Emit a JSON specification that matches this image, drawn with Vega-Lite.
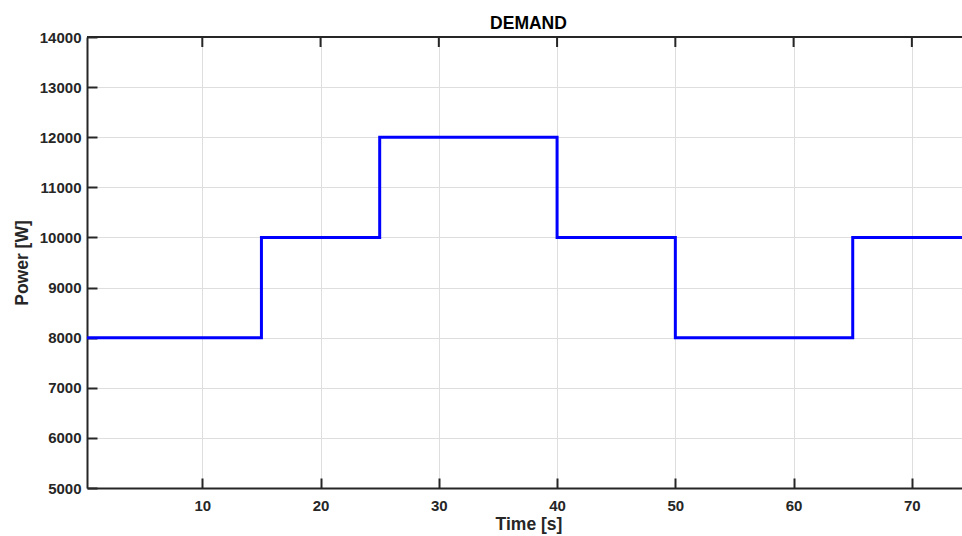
{
  "$schema": "https://vega.github.io/schema/vega-lite/v6.json",
  "width": 875,
  "height": 451,
  "autosize": {"type": "none"},
  "padding": {"left": 87, "top": 37, "right": 0, "bottom": 48},
  "background": "white",
  "title": {
    "text": "DEMAND",
    "font": "Liberation Sans",
    "fontSize": 17.5,
    "fontWeight": "bold",
    "color": "#000000",
    "anchor": "middle",
    "offset": -2,
    "dx": 4
  },
  "config": {
    "view": {"stroke": null},
    "axis": {
      "labelFont": "Liberation Sans",
      "labelFontSize": 15,
      "labelFontWeight": "bold",
      "labelColor": "#262626",
      "titleFont": "Liberation Sans",
      "titleFontSize": 17.5,
      "titleFontWeight": "bold",
      "titleColor": "#262626",
      "domainColor": "#262626",
      "domainWidth": 2,
      "tickColor": "#262626",
      "tickWidth": 2,
      "gridColor": "#dedede",
      "gridWidth": 1
    }
  },
  "data": {
    "values": [
      {"t": 0, "p": 8000},
      {"t": 15, "p": 10000},
      {"t": 25, "p": 12000},
      {"t": 40, "p": 10000},
      {"t": 50, "p": 8000},
      {"t": 65, "p": 10000},
      {"t": 75, "p": 10000}
    ]
  },
  "layer": [
    {
      "mark": {"type": "line", "interpolate": "step-after", "color": "#0000ff", "strokeWidth": 3, "clip": true},
      "encoding": {
        "x": {
          "field": "t",
          "type": "quantitative",
          "scale": {"domain": [0.25, 74.24], "nice": false, "zero": false},
          "axis": {
            "title": "Time [s]",
            "values": [10, 20, 30, 40, 50, 60, 70],
            "tickSize": -10,
            "labelPadding": 20,
            "titlePadding": 2,
            "titleX": 441.5,
            "grid": true,
            "labelFlush": false
          }
        },
        "y": {
          "field": "p",
          "type": "quantitative",
          "scale": {"domain": [5000, 14000], "nice": false, "zero": false},
          "axis": {
            "title": "Power [W]",
            "values": [5000, 6000, 7000, 8000, 9000, 10000, 11000, 12000, 13000, 14000],
            "format": "d",
            "tickSize": -10,
            "labelPadding": 16,
            "titlePadding": 8,
            "grid": true,
            "labelFlush": false
          }
        }
      }
    },
    {
      "mark": {"type": "rule", "color": "#262626", "strokeWidth": 2},
      "data": {"values": [{"t": 10}, {"t": 20}, {"t": 30}, {"t": 40}, {"t": 50}, {"t": 60}, {"t": 70}]},
      "encoding": {
        "x": {"field": "t", "type": "quantitative"},
        "y": {"datum": 14000, "type": "quantitative"},
        "y2": {"datum": 13800}
      }
    },
    {
      "mark": {"type": "rule", "color": "#262626", "strokeWidth": 2},
      "data": {"values": [{"a": 0.25, "b": 74.24}]},
      "encoding": {
        "x": {"field": "a", "type": "quantitative"},
        "x2": {"field": "b"},
        "y": {"datum": 14000, "type": "quantitative"}
      }
    }
  ]
}
